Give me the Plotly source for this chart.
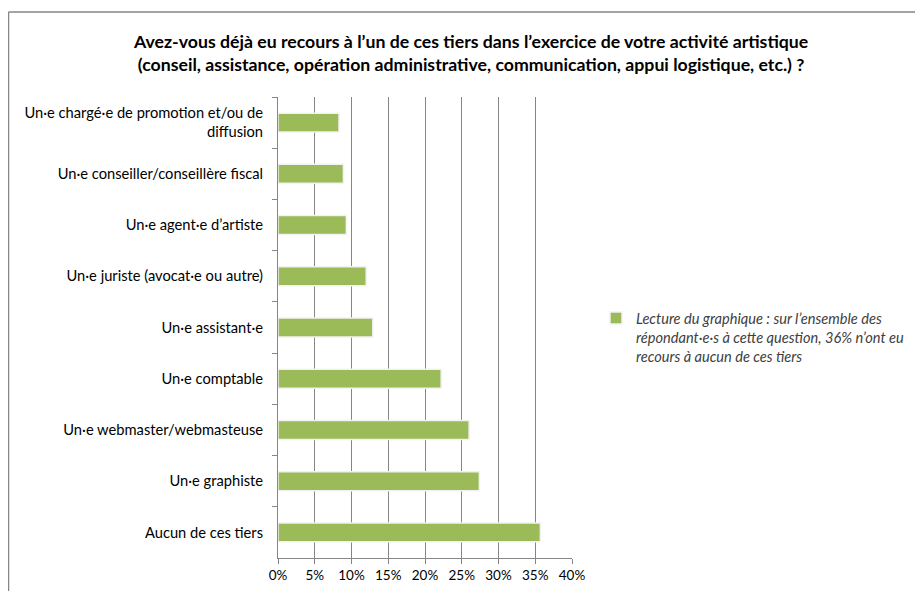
import plotly.graph_objects as go

categories = [
    "Un·e chargé·e de promotion et/ou de<br>diffusion",
    "Un·e conseiller/conseillère fiscal",
    "Un·e agent·e d’artiste",
    "Un·e juriste (avocat·e ou autre)",
    "Un·e assistant·e",
    "Un·e comptable",
    "Un·e webmaster/webmasteuse",
    "Un·e graphiste",
    "Aucun de ces tiers",
]
values = [8.3, 8.9, 9.3, 12.0, 12.9, 22.2, 26.0, 27.4, 35.7]
tick_vals = [0, 5, 10, 15, 20, 25, 30, 35, 40]
tick_text = ["0%", "5%", "10%", "15%", "20%", "25%", "30%", "35%", "40%"]

title_text = ("<b>Avez-vous déjà eu recours à l’un de ces tiers dans l’exercice de votre activité artistique<br>"
              "(conseil, assistance, opération administrative, communication, appui logistique, etc.) ?</b>")
legend_name = ("<i>Lecture du graphique : sur l’ensemble des<br>"
               "répondant·e·s à cette question, 36% n’ont eu<br>"
               "recours à aucun de ces tiers</i>")

FONT = "Lato, 'Open Sans', sans-serif"

fig = go.Figure()
fig.add_trace(go.Bar(
    x=values, y=categories, orientation="h",
    name=legend_name,
    marker=dict(color="#9BBB59", line=dict(color="#f2f2f2", width=1.5)),
    width=0.37, showlegend=True,
))

# the page places the figure 8px from the window's top-left corner
OFF = 8
W, H = 923 - OFF, 591 - OFF
L, R, T, B = 278 - OFF, 572 - OFF, 97 - OFF, 558 - OFF
pw, ph = R - L, B - T

def px(xw):
    return (xw - OFF - L) / pw

def py(yw):
    return (B - (yw - OFF)) / ph

fig.update_layout(
    width=W, height=H,
    margin=dict(l=L, r=W - R, t=T, b=H - B, autoexpand=False),
    paper_bgcolor="white", plot_bgcolor="white",
    font=dict(family=FONT, size=14, color="#000000"),
    xaxis=dict(
        range=[0, 40], tickvals=tick_vals, ticktext=tick_text,
        showgrid=True, gridcolor="#868686", gridwidth=1,
        showline=True, linecolor="#868686", linewidth=1,
        ticks="outside", ticklen=5, tickcolor="#868686",
        zeroline=False, fixedrange=True,
        tickfont=dict(size=13.5, family=FONT, color="#000000"),
    ),
    yaxis=dict(
        categoryorder="array", categoryarray=categories,
        autorange="reversed",
        showline=True, linecolor="#868686", linewidth=1,
        ticks="outside", ticklen=5, tickcolor="#868686",
        tickson="boundaries", showgrid=False,
        tickfont=dict(size=14.7, family=FONT, color="#000000"),
        ticklabelstandoff=11,
    ),
    legend=dict(
        x=px(596), y=py(302), xanchor="left", yanchor="top",
        font=dict(size=14.6, family=FONT, color="#404040"),
        bgcolor="rgba(0,0,0,0)", valign="top", tracegroupgap=0,
        itemwidth=30,
    ),
    bargap=0.6,
    showlegend=True,
)

fig.add_annotation(
    text=title_text, xref="paper", yref="paper",
    x=px(470), y=py(29), xanchor="center", yanchor="top",
    showarrow=False, align="center",
    font=dict(size=17.7, family=FONT, color="#000000"),
)

# outer chart frame (left and top edges visible)
fig.add_shape(type="line", xref="paper", yref="paper",
              x0=px(8.5), x1=px(8.5), y0=py(12), y1=py(600),
              line=dict(color="#868686", width=1.5))
fig.add_shape(type="line", xref="paper", yref="paper",
              x0=px(8.5), x1=px(930), y0=py(12), y1=py(12),
              line=dict(color="#868686", width=1.5))

fig.write_html("out.html")
